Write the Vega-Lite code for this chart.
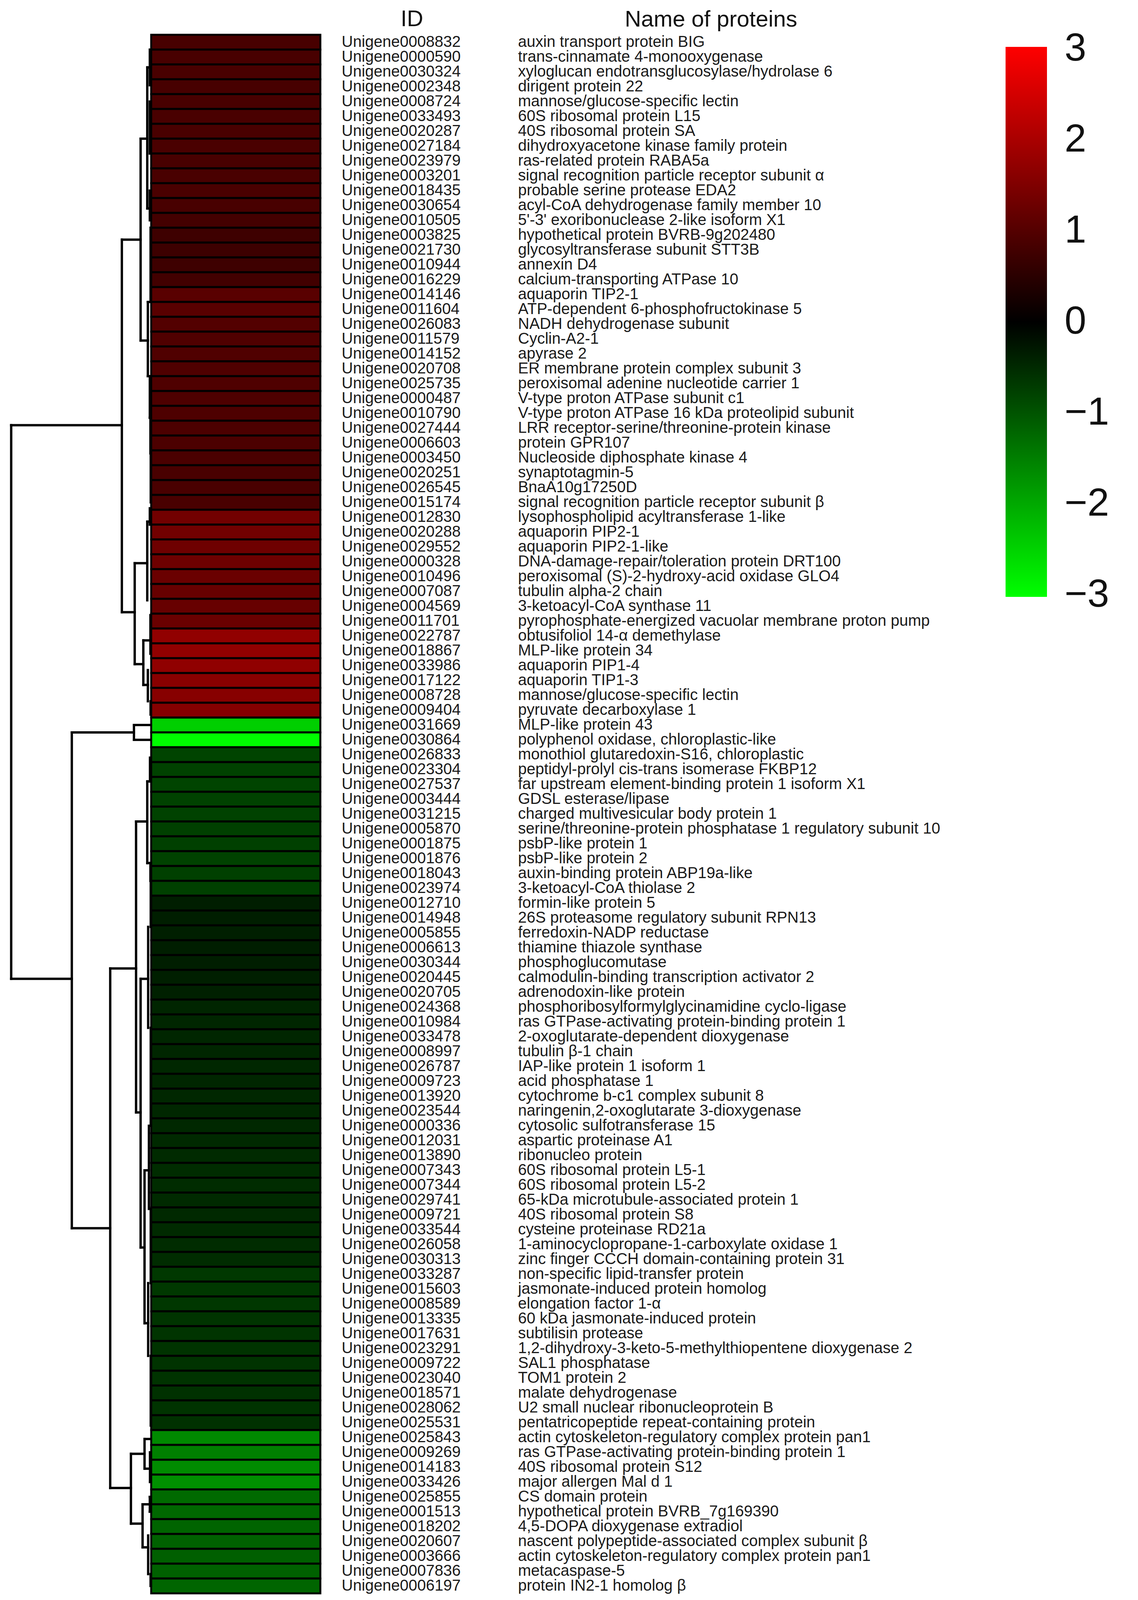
{
  "$schema": "https://vega.github.io/schema/vega-lite/v6.json",
  "background": "white",
  "padding": {"left": 0, "top": 20, "right": 0, "bottom": 4},
  "autosize": {"type": "pad"},
  "bounds": "flush",
  "spacing": 0,
  "config": {"view": {"stroke": null}, "font": "Liberation Sans"},
  "resolve": {"scale": {"color": "shared"}},
  "datasets": {
    "rows": [
      {"id": "Unigene0008832", "name": "auxin transport protein BIG", "v": 0.85},
      {"id": "Unigene0000590", "name": "trans-cinnamate 4-monooxygenase", "v": 0.85},
      {"id": "Unigene0030324", "name": "xyloglucan endotransglucosylase/hydrolase 6", "v": 0.86},
      {"id": "Unigene0002348", "name": "dirigent protein 22", "v": 0.84},
      {"id": "Unigene0008724", "name": "mannose/glucose-specific lectin", "v": 0.85},
      {"id": "Unigene0033493", "name": "60S ribosomal protein L15", "v": 0.86},
      {"id": "Unigene0020287", "name": "40S ribosomal protein SA", "v": 0.87},
      {"id": "Unigene0027184", "name": "dihydroxyacetone kinase family protein", "v": 0.88},
      {"id": "Unigene0023979", "name": "ras-related protein RABA5a", "v": 0.85},
      {"id": "Unigene0003201", "name": "signal recognition particle receptor subunit α", "v": 0.86},
      {"id": "Unigene0018435", "name": "probable serine protease EDA2", "v": 0.88},
      {"id": "Unigene0030654", "name": "acyl-CoA dehydrogenase family member 10", "v": 0.85},
      {"id": "Unigene0010505", "name": "5'-3' exoribonuclease 2-like isoform X1", "v": 0.8},
      {"id": "Unigene0003825", "name": "hypothetical protein BVRB-9g202480", "v": 0.74},
      {"id": "Unigene0021730", "name": "glycosyltransferase subunit STT3B", "v": 0.72},
      {"id": "Unigene0010944", "name": "annexin D4", "v": 0.74},
      {"id": "Unigene0016229", "name": "calcium-transporting ATPase 10", "v": 0.78},
      {"id": "Unigene0014146", "name": "aquaporin TIP2-1", "v": 1.05},
      {"id": "Unigene0011604", "name": "ATP-dependent 6-phosphofructokinase 5", "v": 1.05},
      {"id": "Unigene0026083", "name": "NADH dehydrogenase subunit", "v": 0.98},
      {"id": "Unigene0011579", "name": "Cyclin-A2-1", "v": 0.95},
      {"id": "Unigene0014152", "name": "apyrase 2", "v": 0.95},
      {"id": "Unigene0020708", "name": "ER membrane protein complex subunit 3", "v": 0.93},
      {"id": "Unigene0025735", "name": "peroxisomal adenine nucleotide carrier 1", "v": 0.93},
      {"id": "Unigene0000487", "name": "V-type proton ATPase subunit c1", "v": 0.92},
      {"id": "Unigene0010790", "name": "V-type proton ATPase 16 kDa proteolipid subunit", "v": 0.92},
      {"id": "Unigene0027444", "name": "LRR receptor-serine/threonine-protein kinase", "v": 0.9},
      {"id": "Unigene0006603", "name": "protein GPR107", "v": 0.9},
      {"id": "Unigene0003450", "name": "Nucleoside diphosphate kinase 4", "v": 0.88},
      {"id": "Unigene0020251", "name": "synaptotagmin-5", "v": 0.86},
      {"id": "Unigene0026545", "name": "BnaA10g17250D", "v": 0.86},
      {"id": "Unigene0015174", "name": "signal recognition particle receptor subunit β", "v": 0.86},
      {"id": "Unigene0012830", "name": "lysophospholipid acyltransferase 1-like", "v": 1.35},
      {"id": "Unigene0020288", "name": "aquaporin PIP2-1", "v": 1.35},
      {"id": "Unigene0029552", "name": "aquaporin PIP2-1-like", "v": 1.3},
      {"id": "Unigene0000328", "name": "DNA-damage-repair/toleration protein DRT100", "v": 1.3},
      {"id": "Unigene0010496", "name": "peroxisomal (S)-2-hydroxy-acid oxidase GLO4", "v": 1.25},
      {"id": "Unigene0007087", "name": "tubulin alpha-2 chain", "v": 1.22},
      {"id": "Unigene0004569", "name": "3-ketoacyl-CoA synthase 11", "v": 1.22},
      {"id": "Unigene0011701", "name": "pyrophosphate-energized vacuolar membrane proton pump", "v": 1.25},
      {"id": "Unigene0022787", "name": "obtusifoliol 14-α demethylase", "v": 1.72},
      {"id": "Unigene0018867", "name": "MLP-like protein 34", "v": 1.72},
      {"id": "Unigene0033986", "name": "aquaporin PIP1-4", "v": 1.7},
      {"id": "Unigene0017122", "name": "aquaporin TIP1-3", "v": 1.62},
      {"id": "Unigene0008728", "name": "mannose/glucose-specific lectin", "v": 1.6},
      {"id": "Unigene0009404", "name": "pyruvate decarboxylase 1", "v": 1.58},
      {"id": "Unigene0031669", "name": "MLP-like protein 43", "v": -2.45},
      {"id": "Unigene0030864", "name": "polyphenol oxidase, chloroplastic-like", "v": -3},
      {"id": "Unigene0026833", "name": "monothiol glutaredoxin-S16, chloroplastic", "v": -0.8},
      {"id": "Unigene0023304", "name": "peptidyl-prolyl cis-trans isomerase FKBP12", "v": -0.78},
      {"id": "Unigene0027537", "name": "far upstream element-binding protein 1 isoform X1", "v": -0.8},
      {"id": "Unigene0003444", "name": "GDSL esterase/lipase", "v": -0.78},
      {"id": "Unigene0031215", "name": "charged multivesicular body protein 1", "v": -0.78},
      {"id": "Unigene0005870", "name": "serine/threonine-protein phosphatase 1 regulatory subunit 10", "v": -0.76},
      {"id": "Unigene0001875", "name": "psbP-like protein 1", "v": -0.76},
      {"id": "Unigene0001876", "name": "psbP-like protein 2", "v": -0.78},
      {"id": "Unigene0018043", "name": "auxin-binding protein ABP19a-like", "v": -0.76},
      {"id": "Unigene0023974", "name": "3-ketoacyl-CoA thiolase 2", "v": -0.76},
      {"id": "Unigene0012710", "name": "formin-like protein 5", "v": -0.36},
      {"id": "Unigene0014948", "name": "26S proteasome regulatory subunit RPN13", "v": -0.36},
      {"id": "Unigene0005855", "name": "ferredoxin-NADP reductase", "v": -0.37},
      {"id": "Unigene0006613", "name": "thiamine thiazole synthase", "v": -0.36},
      {"id": "Unigene0030344", "name": "phosphoglucomutase", "v": -0.36},
      {"id": "Unigene0020445", "name": "calmodulin-binding transcription activator 2", "v": -0.37},
      {"id": "Unigene0020705", "name": "adrenodoxin-like protein", "v": -0.38},
      {"id": "Unigene0024368", "name": "phosphoribosylformylglycinamidine cyclo-ligase", "v": -0.44},
      {"id": "Unigene0010984", "name": "ras GTPase-activating protein-binding protein 1", "v": -0.45},
      {"id": "Unigene0033478", "name": "2-oxoglutarate-dependent dioxygenase", "v": -0.45},
      {"id": "Unigene0008997", "name": "tubulin β-1 chain", "v": -0.45},
      {"id": "Unigene0026787", "name": "IAP-like protein 1 isoform 1", "v": -0.46},
      {"id": "Unigene0009723", "name": "acid phosphatase 1", "v": -0.45},
      {"id": "Unigene0013920", "name": "cytochrome b-c1 complex subunit 8", "v": -0.46},
      {"id": "Unigene0023544", "name": "naringenin,2-oxoglutarate 3-dioxygenase", "v": -0.46},
      {"id": "Unigene0000336", "name": "cytosolic sulfotransferase 15", "v": -0.47},
      {"id": "Unigene0012031", "name": "aspartic proteinase A1", "v": -0.48},
      {"id": "Unigene0013890", "name": "ribonucleo protein", "v": -0.5},
      {"id": "Unigene0007343", "name": "60S ribosomal protein L5-1", "v": -0.52},
      {"id": "Unigene0007344", "name": "60S ribosomal protein L5-2", "v": -0.52},
      {"id": "Unigene0029741", "name": "65-kDa microtubule-associated protein 1", "v": -0.5},
      {"id": "Unigene0009721", "name": "40S ribosomal protein S8", "v": -0.48},
      {"id": "Unigene0033544", "name": "cysteine proteinase RD21a", "v": -0.5},
      {"id": "Unigene0026058", "name": "1-aminocyclopropane-1-carboxylate oxidase 1", "v": -0.52},
      {"id": "Unigene0030313", "name": "zinc finger CCCH domain-containing protein 31", "v": -0.52},
      {"id": "Unigene0033287", "name": "non-specific lipid-transfer protein", "v": -0.66},
      {"id": "Unigene0015603", "name": "jasmonate-induced protein homolog", "v": -0.66},
      {"id": "Unigene0008589", "name": "elongation factor 1-α", "v": -0.65},
      {"id": "Unigene0013335", "name": "60 kDa jasmonate-induced protein", "v": -0.62},
      {"id": "Unigene0017631", "name": "subtilisin protease", "v": -0.62},
      {"id": "Unigene0023291", "name": "1,2-dihydroxy-3-keto-5-methylthiopentene dioxygenase 2", "v": -0.6},
      {"id": "Unigene0009722", "name": "SAL1 phosphatase", "v": -0.6},
      {"id": "Unigene0023040", "name": "TOM1 protein 2", "v": -0.6},
      {"id": "Unigene0018571", "name": "malate dehydrogenase", "v": -0.58},
      {"id": "Unigene0028062", "name": "U2 small nuclear ribonucleoprotein B", "v": -0.6},
      {"id": "Unigene0025531", "name": "pentatricopeptide repeat-containing protein", "v": -0.58},
      {"id": "Unigene0025843", "name": "actin cytoskeleton-regulatory complex protein pan1", "v": -1.62},
      {"id": "Unigene0009269", "name": "ras GTPase-activating protein-binding protein 1", "v": -1.5},
      {"id": "Unigene0014183", "name": "40S ribosomal protein S12", "v": -1.65},
      {"id": "Unigene0033426", "name": "major allergen Mal d 1", "v": -1.7},
      {"id": "Unigene0025855", "name": "CS domain protein", "v": -1.25},
      {"id": "Unigene0001513", "name": "hypothetical protein BVRB_7g169390", "v": -1.22},
      {"id": "Unigene0018202", "name": "4,5-DOPA dioxygenase extradiol", "v": -1.18},
      {"id": "Unigene0020607", "name": "nascent polypeptide-associated complex subunit β", "v": -1.15},
      {"id": "Unigene0003666", "name": "actin cytoskeleton-regulatory complex protein pan1", "v": -1.12},
      {"id": "Unigene0007836", "name": "metacaspase-5", "v": -1.15},
      {"id": "Unigene0006197", "name": "protein IN2-1 homolog β", "v": -1.2}
    ],
    "tree": [
      {"h1": 92.6, "h2": 92.6, "r1": 26.8, "r2": 64.1},
      {"h1": 92.6, "h2": 19.4, "r1": 26.8, "r2": 26.8},
      {"h1": 92.6, "h2": 52.5, "r1": 64.1, "r2": 64.1},
      {"h1": 19.4, "h2": 19.4, "r1": 14.3, "r2": 39.4},
      {"h1": 19.4, "h2": 7, "r1": 14.3, "r2": 14.3},
      {"h1": 19.4, "h2": 10.9, "r1": 39.4, "r2": 39.4},
      {"h1": 7, "h2": 7, "r1": 7.5, "r2": 21.1},
      {"h1": 7, "h2": 2.6, "r1": 7.5, "r2": 7.5},
      {"h1": 7, "h2": 2.2, "r1": 21.1, "r2": 21.1},
      {"h1": 2.6, "h2": 2.6, "r1": 2.7, "r2": 12.2},
      {"h1": 2.6, "h2": 0.9, "r1": 2.7, "r2": 2.7},
      {"h1": 0.9, "h2": 0.9, "r1": 1.5, "r2": 3.9},
      {"h1": 0.9, "h2": 0.9, "r1": 5, "r2": 8.5},
      {"h1": 2.6, "h2": 0.9, "r1": 12.2, "r2": 12.2},
      {"h1": 0.9, "h2": 0.9, "r1": 11, "r2": 13},
      {"h1": 2.2, "h2": 2.2, "r1": 18.5, "r2": 23.5},
      {"h1": 2.2, "h2": 0.4, "r1": 18.5, "r2": 18.5},
      {"h1": 0.4, "h2": 0.4, "r1": 13.5, "r2": 18.5},
      {"h1": 2.2, "h2": 0.9, "r1": 23.5, "r2": 23.5},
      {"h1": 0.9, "h2": 0.9, "r1": 23.5, "r2": 26.3},
      {"h1": 0.9, "h2": 0.5, "r1": 26.3, "r2": 26.3},
      {"h1": 0.5, "h2": 0.5, "r1": 26.3, "r2": 28.7},
      {"h1": 0.3, "h2": 0.3, "r1": 28.7, "r2": 32},
      {"h1": 10.9, "h2": 10.9, "r1": 36.1, "r2": 42.9},
      {"h1": 10.9, "h2": 2.6, "r1": 36.1, "r2": 36.1},
      {"h1": 2.6, "h2": 2.6, "r1": 33.3, "r2": 38.6},
      {"h1": 2.6, "h2": 0.9, "r1": 33.3, "r2": 33.3},
      {"h1": 0.9, "h2": 0.9, "r1": 32.4, "r2": 33.5},
      {"h1": 10.9, "h2": 5.2, "r1": 42.9, "r2": 42.9},
      {"h1": 5.2, "h2": 5.2, "r1": 41.3, "r2": 44.3},
      {"h1": 5.2, "h2": 0.5, "r1": 41.3, "r2": 41.3},
      {"h1": 0.5, "h2": 0.5, "r1": 39.6, "r2": 42.2},
      {"h1": 5.2, "h2": 2.2, "r1": 44.3, "r2": 44.3},
      {"h1": 2.2, "h2": 2.2, "r1": 43.3, "r2": 45.4},
      {"h1": 0.4, "h2": 0.4, "r1": 45.4, "r2": 46.3},
      {"h1": 52.5, "h2": 52.5, "r1": 47.5, "r2": 80.9},
      {"h1": 52.5, "h2": 11.4, "r1": 47.5, "r2": 47.5},
      {"h1": 11.4, "h2": 11.4, "r1": 47, "r2": 48},
      {"h1": 11.4, "h2": 0, "r1": 47, "r2": 47},
      {"h1": 11.4, "h2": 0, "r1": 48, "r2": 48},
      {"h1": 52.5, "h2": 27.1, "r1": 80.9, "r2": 80.9},
      {"h1": 27.1, "h2": 27.1, "r1": 63.4, "r2": 98.4},
      {"h1": 27.1, "h2": 10, "r1": 63.4, "r2": 63.4},
      {"h1": 27.1, "h2": 13.4, "r1": 98.4, "r2": 98.4},
      {"h1": 10, "h2": 10, "r1": 53.5, "r2": 73.1},
      {"h1": 10, "h2": 2.6, "r1": 53.5, "r2": 53.5},
      {"h1": 2.6, "h2": 2.6, "r1": 50.8, "r2": 56.3},
      {"h1": 2.6, "h2": 0.8, "r1": 50.8, "r2": 50.8},
      {"h1": 0.8, "h2": 0.8, "r1": 49.2, "r2": 50.8},
      {"h1": 2.6, "h2": 0.5, "r1": 56.3, "r2": 56.3},
      {"h1": 0.5, "h2": 0.5, "r1": 56.3, "r2": 57.5},
      {"h1": 10, "h2": 7, "r1": 73.1, "r2": 73.1},
      {"h1": 7, "h2": 7, "r1": 64.1, "r2": 82.2},
      {"h1": 7, "h2": 2, "r1": 64.1, "r2": 64.1},
      {"h1": 2, "h2": 2, "r1": 60.6, "r2": 67.4},
      {"h1": 0.3, "h2": 0.3, "r1": 57.5, "r2": 60.6},
      {"h1": 0.3, "h2": 0.3, "r1": 67.4, "r2": 74},
      {"h1": 7, "h2": 4.4, "r1": 82.2, "r2": 82.2},
      {"h1": 4.4, "h2": 4.4, "r1": 77, "r2": 87.3},
      {"h1": 4.4, "h2": 1.5, "r1": 77, "r2": 77},
      {"h1": 1.5, "h2": 1.5, "r1": 74, "r2": 79.6},
      {"h1": 4.4, "h2": 2, "r1": 87.3, "r2": 87.3},
      {"h1": 2, "h2": 2, "r1": 84.6, "r2": 89.5},
      {"h1": 0.3, "h2": 0.3, "r1": 79.6, "r2": 84.6},
      {"h1": 0.3, "h2": 0.3, "r1": 89.5, "r2": 94.2},
      {"h1": 13.4, "h2": 13.4, "r1": 96.1, "r2": 100.8},
      {"h1": 13.4, "h2": 4.4, "r1": 96.1, "r2": 96.1},
      {"h1": 4.4, "h2": 4.4, "r1": 95.1, "r2": 97.1},
      {"h1": 4.4, "h2": 0, "r1": 95.1, "r2": 95.1},
      {"h1": 4.4, "h2": 0.8, "r1": 97.1, "r2": 97.1},
      {"h1": 0.8, "h2": 0.8, "r1": 96, "r2": 98},
      {"h1": 0.8, "h2": 0, "r1": 96, "r2": 96},
      {"h1": 0.8, "h2": 0, "r1": 98, "r2": 98},
      {"h1": 13.4, "h2": 5.7, "r1": 100.8, "r2": 100.8},
      {"h1": 5.7, "h2": 5.7, "r1": 99.5, "r2": 102.4},
      {"h1": 5.7, "h2": 0.9, "r1": 99.5, "r2": 99.5},
      {"h1": 0.9, "h2": 0.9, "r1": 99, "r2": 100},
      {"h1": 0.9, "h2": 0, "r1": 99, "r2": 99},
      {"h1": 0.9, "h2": 0, "r1": 100, "r2": 100},
      {"h1": 5.7, "h2": 2, "r1": 102.4, "r2": 102.4},
      {"h1": 2, "h2": 2, "r1": 101.6, "r2": 104.2},
      {"h1": 0.4, "h2": 0.4, "r1": 104.2, "r2": 105}
    ]
  },
  "hconcat": [
    {
      "width": 387,
      "height": 3990,
      "data": {"name": "tree"},
      "mark": {"type": "rule", "color": "black", "strokeWidth": 6, "strokeCap": "square"},
      "encoding": {
        "x": {"field": "h1", "type": "quantitative", "scale": {"domain": [0, 100], "reverse": true, "nice": false, "zero": false}, "axis": null},
        "x2": {"field": "h2"},
        "y": {"field": "r1", "type": "quantitative", "scale": {"domain": [0.5, 105.5], "reverse": true, "nice": false, "zero": false}, "axis": null},
        "y2": {"field": "r2"}
      }
    },
    {
      "width": 433,
      "height": 3990,
      "data": {"name": "rows"},
      "title": {"text": "ID", "anchor": "middle", "dx": 451, "offset": 8, "fontSize": 58, "fontWeight": "normal", "font": "Liberation Sans", "color": "#111111"},
      "mark": {"type": "rect", "stroke": "black", "strokeWidth": 5},
      "encoding": {
        "y": {"field": "id", "type": "nominal", "sort": null, "scale": {"paddingInner": 0, "paddingOuter": 0},
          "axis": {"orient": "right", "title": null, "domain": false, "ticks": false, "labelPadding": 54, "labelFontSize": 40, "labelFont": "Liberation Sans", "labelColor": "#1a1a1a", "labelLimit": 2000, "labelOverlap": false}},
        "color": {"field": "v", "type": "quantitative",
          "scale": {"domain": [-3.02, 0, 3.02], "range": ["#00ff00", "#000000", "#ff0000"], "interpolate": "rgb"},
          "legend": {"title": null, "orient": "right", "direction": "vertical", "values": [3, 2, 1, 0, -1, -2, -3], "format": "d", "gradientLength": 1408, "gradientThickness": 106, "gradientStrokeWidth": 0, "labelFontSize": 100, "labelFont": "Liberation Sans", "labelColor": "#111111", "labelOffset": 45, "labelBaseline": "middle", "padding": 31, "offset": 136}}
      }
    },
    {
      "width": 1200,
      "height": 3990,
      "data": {"name": "rows"},
      "title": {"text": "Name of proteins", "anchor": "middle", "dx": 400, "offset": 8, "fontSize": 58, "fontWeight": "normal", "font": "Liberation Sans", "color": "#111111"},
      "mark": {"type": "text", "align": "left", "baseline": "middle", "fontSize": 40, "font": "Liberation Sans", "color": "#1a1a1a", "dx": 506},
      "encoding": {
        "x": {"datum": 0, "type": "quantitative", "scale": {"domain": [0, 1]}, "axis": null},
        "y": {"field": "id", "type": "nominal", "sort": null, "axis": null},
        "text": {"field": "name"}
      }
    }
  ]
}
